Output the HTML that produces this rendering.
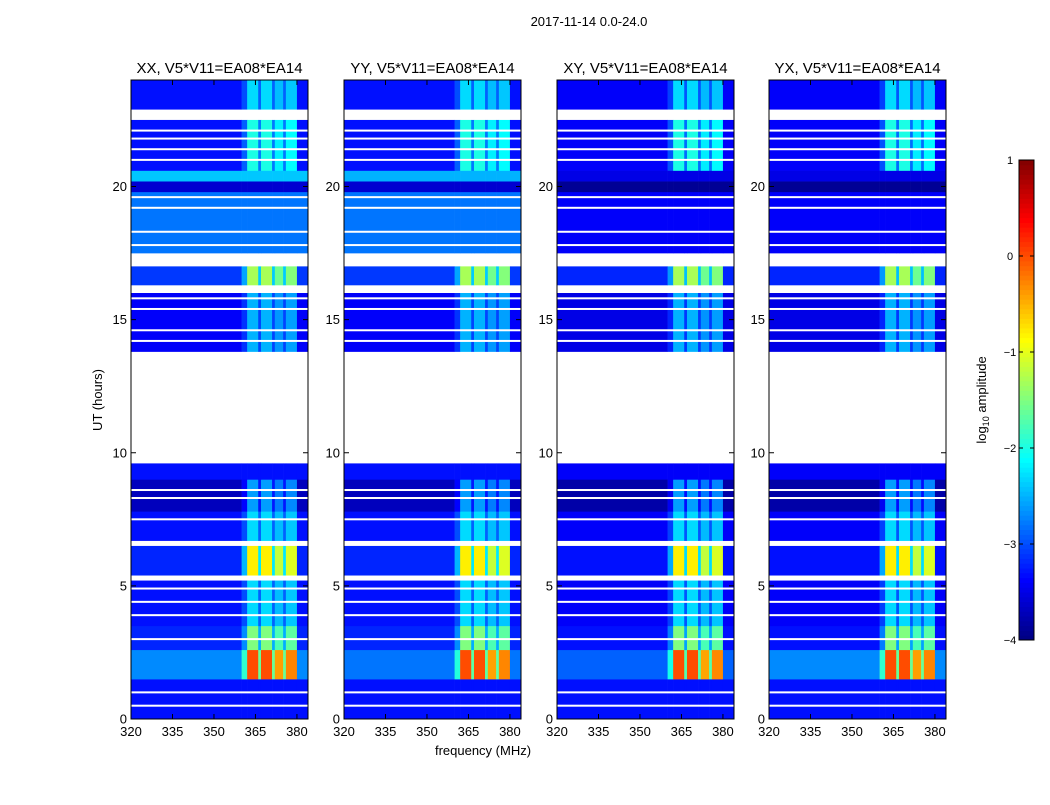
<!DOCTYPE html>
<html><head><meta charset="utf-8"><style>
body{margin:0;background:#fff;font-family:"Liberation Sans","DejaVu Sans",sans-serif;}
svg text{font-family:"Liberation Sans","DejaVu Sans",sans-serif;}
</style></head><body>
<svg id="fig" width="1050" height="800" xmlns="http://www.w3.org/2000/svg">
<rect width="1050" height="800" fill="#fff"/>
<text x="589" y="26" font-size="13" text-anchor="middle">2017-11-14 0.0-24.0</text>
<text transform="translate(102,400) rotate(-90)" font-size="13" text-anchor="middle">UT (hours)</text>
<text x="483" y="755" font-size="13" text-anchor="middle">frequency (MHz)</text>
<text transform="translate(986,400) rotate(-90)" font-size="13" text-anchor="middle">log<tspan font-size="9" dy="3">10</tspan><tspan dy="-3"> amplitude</tspan></text>
</svg>
<script>
// ---- data ----
const panelTitles = ["XX, V5*V11=EA08*EA14","YY, V5*V11=EA08*EA14","XY, V5*V11=EA08*EA14","YX, V5*V11=EA08*EA14"];
const timeStart = [0,1.5,2.6,3.5,5.2,5.4,6.5,6.7,7.8,9.0,9.6,13.8,16.0,16.3,17.0,17.5,19.8,20.2,20.6,22.5,22.9];
const timeEnd   = [1.5,2.6,3.5,5.2,5.4,6.5,6.7,7.8,9.0,9.6,13.8,16.0,16.3,17.0,17.5,19.8,20.2,20.6,22.5,22.9,24];
const baseXX = [-3.3,-2.7,-3.2,-3.3,null,-3.2,null,-3.3,-3.7,-3.3,null,-3.4,null,-3.1,null,-2.8,-3.6,-2.4,-3.3,null,-3.3];
const baseYY = [-3.3,-2.8,-3.2,-3.3,null,-3.2,null,-3.3,-3.7,-3.3,null,-3.4,null,-3.1,null,-2.8,-3.6,-2.5,-3.3,null,-3.3];
const baseXY = [-3.3,-2.9,-3.3,-3.4,null,-3.3,null,-3.4,-3.8,-3.4,null,-3.5,null,-3.2,null,-3.4,-3.9,-3.5,-3.4,null,-3.4];
const baseYX = [-3.3,-2.7,-3.3,-3.4,null,-3.3,null,-3.4,-3.8,-3.4,null,-3.5,null,-3.2,null,-3.4,-3.9,-3.5,-3.4,null,-3.4];
const rfiLevel = [null,0.0,-1.5,-2.3,null,-0.8,null,-2.3,-2.6,null,null,-2.5,null,-1.3,null,null,null,null,-2.0,null,-2.3];
const freqEdges = [320,360,362,366,367,371,372,375,376,380,384];
const rfiWeight = [0,0.3,1,0.4,1,0.4,0.85,0.4,0.9,0];
const flagTimes = [0.5,1.0,3.0,3.9,4.4,4.9,7.5,8.3,8.6,14.2,14.6,15.4,15.8,17.8,18.3,19.2,19.6,21.0,21.4,21.8,22.1];
const yTicks = [0,5,10,15,20];
const xTicks = [320,335,350,365,380];
const cbTicks = [1,0,-1,-2,-3,-4];
const cbLabels = ["1","0","\u22121","\u22122","\u22123","\u22124"];
// ---- layout ----
const panelX = [131,344,557,769], PW=177, PT=80, PB=719;
const NS="http://www.w3.org/2000/svg", svg=document.getElementById('fig');
const yScale = t => PB - (t/24)*(PB-PT);
const xScale = (px,f) => px + (f-320)/(384-320)*PW;
function jet(v){ let x=(v+4)/5; x=Math.max(0,Math.min(1,x));
 const c=t=>Math.round(255*Math.max(0,Math.min(1,t)));
 return `rgb(${c(1.5-Math.abs(4*x-3))},${c(1.5-Math.abs(4*x-2))},${c(1.5-Math.abs(4*x-1))})`; }
function mk(tag,attrs){const e=document.createElementNS(NS,tag);for(const k in attrs)e.setAttribute(k,attrs[k]);svg.appendChild(e);return e;}
const bases=[baseXX,baseYY,baseXY,baseYX];
for(let p=0;p<4;p++){
 const px=panelX[p], base=bases[p];
 for(let i=0;i<timeStart.length;i++){
  if(base[i]===null) continue;
  const y0=yScale(timeEnd[i]), y1=yScale(timeStart[i]);
  for(let j=0;j<rfiWeight.length;j++){
   let v=base[i]; if(rfiLevel[i]!==null) v=base[i]+rfiWeight[j]*(rfiLevel[i]-base[i]);
   const x0=xScale(px,freqEdges[j]), x1=xScale(px,freqEdges[j+1]);
   const r=mk('rect',{x:x0,y:y0,width:x1-x0+0.3,height:y1-y0+0.3,fill:jet(v)});
   
   
  }
 }
 for(const ft of flagTimes){
  const r=mk('rect',{x:px,y:yScale(ft)-1,width:PW,height:2,fill:'#fff'});
  
  
 }
 const fr=mk('rect',{x:px,y:PT,width:PW,height:PB-PT,fill:'none',stroke:'#000','stroke-width':1});
 
 
 const tt=mk('text',{x:px+PW/2,y:73,'font-size':15,'text-anchor':'middle'}); tt.textContent=panelTitles[p];
 
 
 for(const t of yTicks){const y=yScale(t);
  mk('line',{x1:px,x2:px+5,y1:y,y2:y,stroke:'#000'});mk('line',{x1:px+PW-5,x2:px+PW,y1:y,y2:y,stroke:'#000'});
  const l=mk('text',{x:px-4,y:y+4.5,'font-size':13,'text-anchor':'end'});l.textContent=t;
  
  }
 for(const f of xTicks){const x=xScale(px,f);
  mk('line',{x1:x,x2:x,y1:PB,y2:PB-5,stroke:'#000'});mk('line',{x1:x,x2:x,y1:PT,y2:PT+5,stroke:'#000'});
  const l=mk('text',{x:x,y:PB+17,'font-size':13,'text-anchor':'middle'});l.textContent=f;
  
  }
}
// colorbar
const CX=1019,CW=15,CT=160,CB=640;
const cbY=v=>CB-(v+4)/5*(CB-CT);
for(let k=0;k<100;k++){const v0=-4+k*0.05;
 const r=mk('rect',{x:CX,y:cbY(v0+0.05),width:CW,height:(CB-CT)/100+0.5,fill:jet(v0+0.025)});
 
 }
const cf=mk('rect',{x:CX,y:CT,width:CW,height:CB-CT,fill:'none',stroke:'#000'});


cbTicks.forEach((v,i)=>{const y=cbY(v);
 mk('line',{x1:CX,x2:CX+4,y1:y,y2:y,stroke:'#000'});mk('line',{x1:CX+CW-4,x2:CX+CW,y1:y,y2:y,stroke:'#000'});
 const l=mk('text',{x:1010,y:y+4,'font-size':11,'text-anchor':'middle'});l.textContent=cbLabels[i];
 
 });
</script>
</body></html>
